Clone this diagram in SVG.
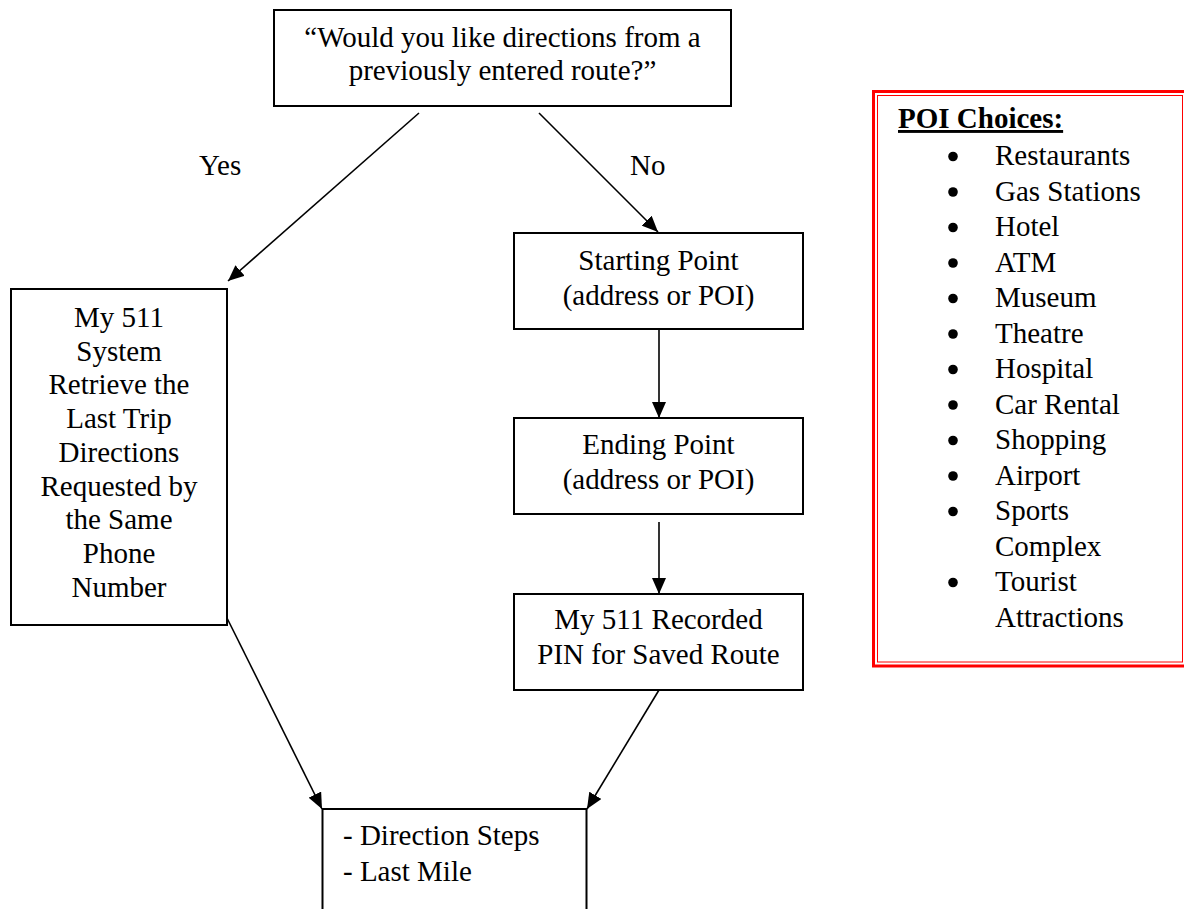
<svg xmlns="http://www.w3.org/2000/svg" width="1184" height="909" viewBox="0 0 1184 909" font-family="'Liberation Serif', Tinos, 'Times New Roman', Times, 'DejaVu Serif', serif">
<style>
text{font-family:'Liberation Serif',Tinos,'Times New Roman',Times,'DejaVu Serif',serif;font-size:29px;fill:#000}
.c{text-anchor:middle}
.box{fill:#fff;stroke:#000;stroke-width:2}
.ln{stroke:#000;stroke-width:1.6;fill:none}
</style>
<defs>
<marker id="ah" viewBox="0 0 16 14" refX="16" refY="7" markerWidth="16" markerHeight="14" markerUnits="userSpaceOnUse" orient="auto">
<path d="M0,0 L16,7 L0,14 Z" fill="#000"/>
</marker>
</defs>
<rect width="1184" height="909" fill="#fff"/>
<g id="connectors">
<line class="ln" x1="419" y1="113" x2="228" y2="281" marker-end="url(#ah)"/>
<line class="ln" x1="539" y1="113" x2="658" y2="232" marker-end="url(#ah)"/>
<line class="ln" x1="659" y1="330" x2="659" y2="418" marker-end="url(#ah)"/>
<line class="ln" x1="659" y1="522" x2="659" y2="594" marker-end="url(#ah)"/>
<line class="ln" x1="227" y1="618" x2="322" y2="809" marker-end="url(#ah)"/>
<line class="ln" x1="659" y1="690" x2="587" y2="809" marker-end="url(#ah)"/>
<text x="199" y="175">Yes</text>
<text x="630" y="175">No</text>
</g>
<g id="question">
<rect class="box" x="274" y="10" width="457" height="96"/>
<text class="c" x="502.5" y="47">“Would you like directions from a</text>
<text class="c" x="502.5" y="80">previously entered route?”</text>
</g>
<g id="retrieve">
<rect class="box" x="11" y="289" width="216" height="336"/>
<text class="c" x="119" y="327">My 511</text>
<text class="c" x="119" y="360.7">System</text>
<text class="c" x="119" y="394.4">Retrieve the</text>
<text class="c" x="119" y="428.1">Last Trip</text>
<text class="c" x="119" y="461.8">Directions</text>
<text class="c" x="119" y="495.5">Requested by</text>
<text class="c" x="119" y="529.2">the Same</text>
<text class="c" x="119" y="562.9">Phone</text>
<text class="c" x="119" y="596.6">Number</text>
</g>
<g id="start">
<rect class="box" x="514" y="233" width="289" height="96"/>
<text class="c" x="658.5" y="270">Starting Point</text>
<text class="c" x="658.5" y="305">(address or POI)</text>
</g>
<g id="end">
<rect class="box" x="514" y="418" width="289" height="96"/>
<text class="c" x="658.5" y="454">Ending Point</text>
<text class="c" x="658.5" y="489">(address or POI)</text>
</g>
<g id="pin">
<rect class="box" x="514" y="594" width="289" height="96"/>
<text class="c" x="658.5" y="629">My 511 Recorded</text>
<text class="c" x="658.5" y="664">PIN for Saved Route</text>
</g>
<g id="result">
<path d="M322.5,915 V809 H586.5 V915" fill="#fff" stroke="#000" stroke-width="2"/>
<text x="343" y="845">- Direction Steps</text>
<text x="343" y="880.7">- Last Mile</text>
</g>
<g id="poi">
<rect x="873.5" y="91.5" width="320" height="574.5" fill="#fff" stroke="#ff0000" stroke-width="3"/>
<rect x="877.5" y="95.5" width="305" height="566.5" fill="none" stroke="#ff0000" stroke-width="1"/>
<text x="898" y="128" font-weight="bold" text-decoration="underline">POI Choices:</text>
<circle cx="953" cy="156.5" r="4.8"/>
<circle cx="953" cy="192" r="4.8"/>
<circle cx="953" cy="227.5" r="4.8"/>
<circle cx="953" cy="263" r="4.8"/>
<circle cx="953" cy="298.5" r="4.8"/>
<circle cx="953" cy="334" r="4.8"/>
<circle cx="953" cy="369.5" r="4.8"/>
<circle cx="953" cy="405" r="4.8"/>
<circle cx="953" cy="440.5" r="4.8"/>
<circle cx="953" cy="476" r="4.8"/>
<circle cx="953" cy="511.5" r="4.8"/>
<circle cx="953" cy="582.5" r="4.8"/>
<text x="995" y="165">Restaurants</text>
<text x="995" y="200.5">Gas Stations</text>
<text x="995" y="236">Hotel</text>
<text x="995" y="271.5">ATM</text>
<text x="995" y="307">Museum</text>
<text x="995" y="342.5">Theatre</text>
<text x="995" y="378">Hospital</text>
<text x="995" y="413.5">Car Rental</text>
<text x="995" y="449">Shopping</text>
<text x="995" y="484.5">Airport</text>
<text x="995" y="520">Sports</text>
<text x="995" y="555.5">Complex</text>
<text x="995" y="591">Tourist</text>
<text x="995" y="626.5">Attractions</text>
</g>
</svg>
